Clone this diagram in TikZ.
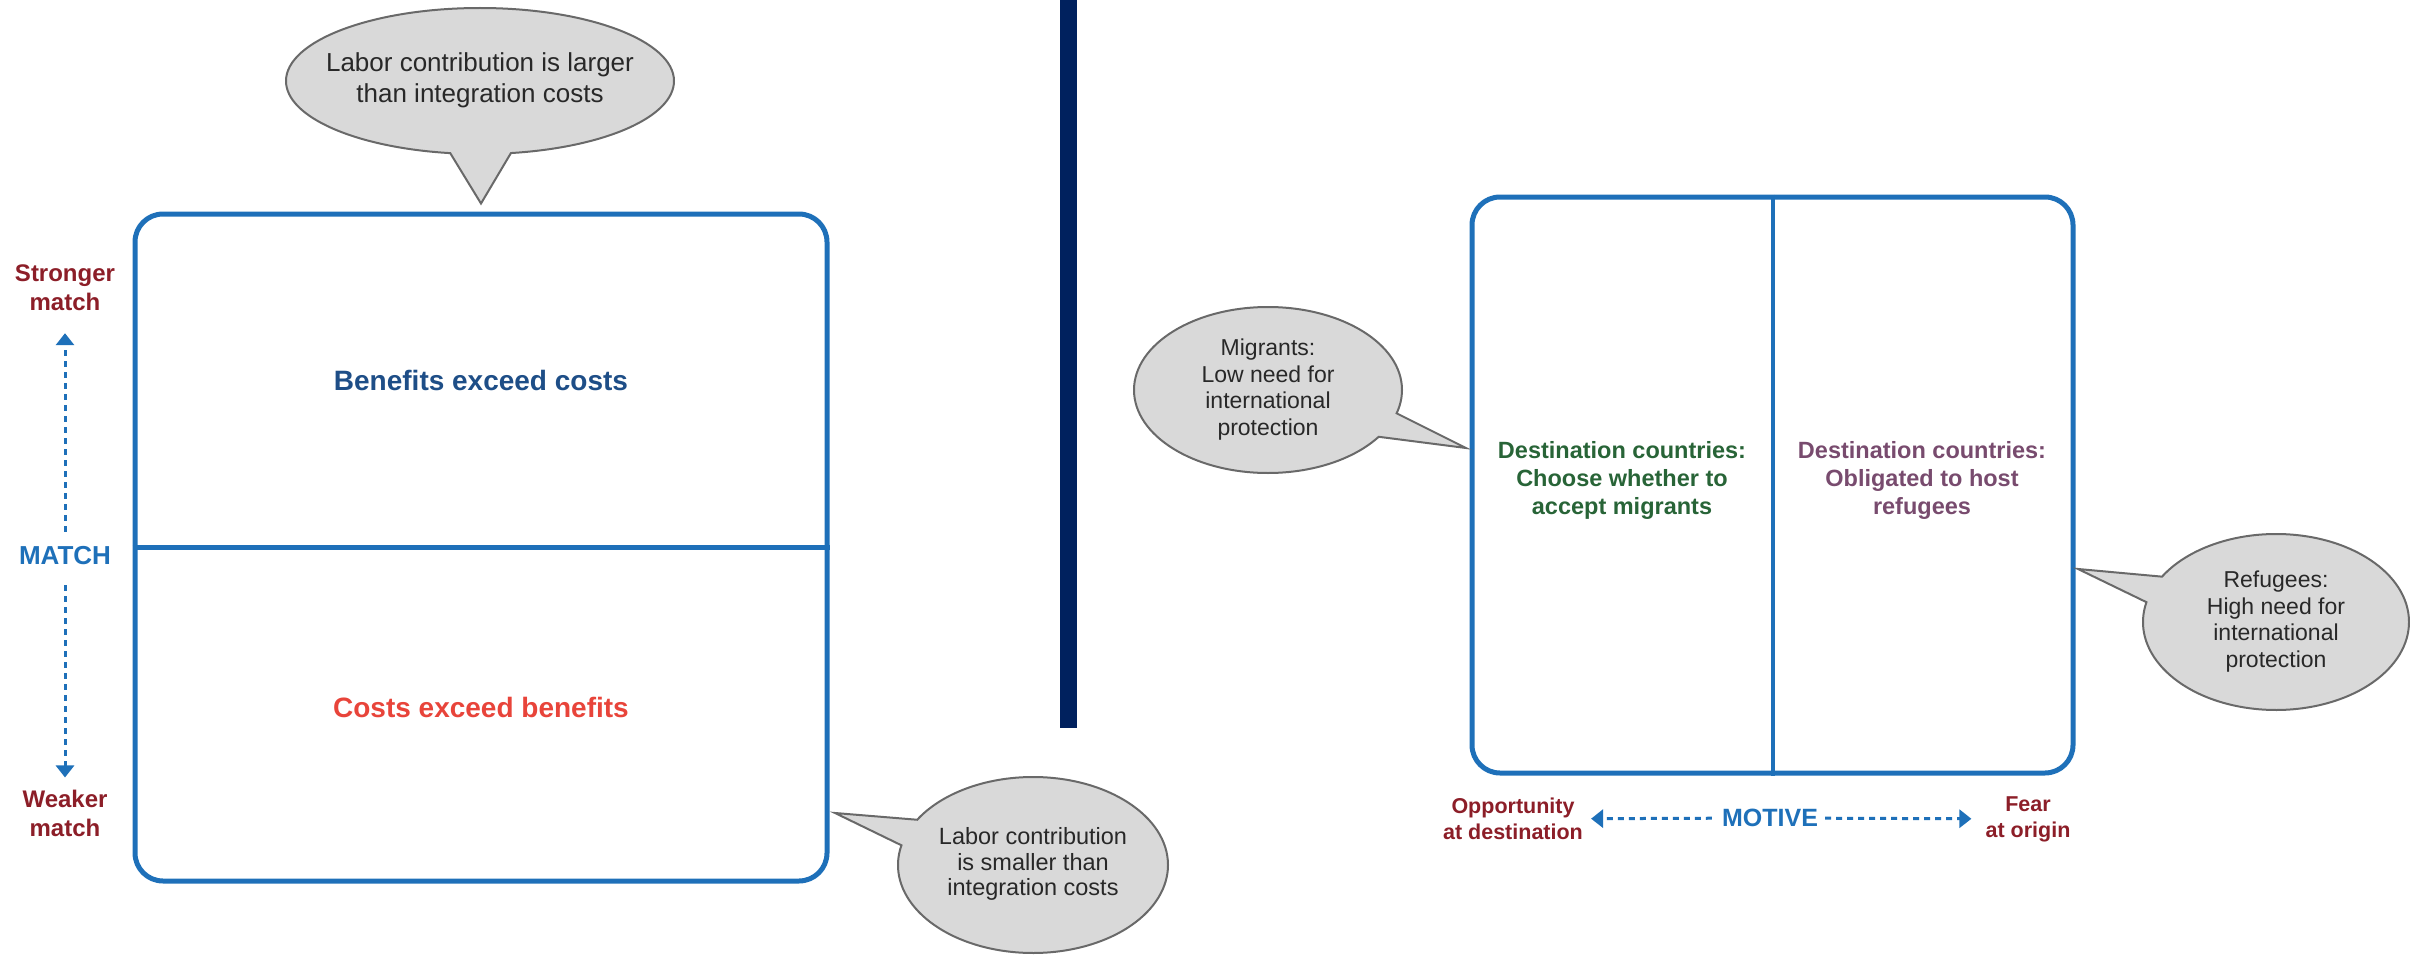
\documentclass[tikz,border=0pt]{standalone}
\usepackage{fontspec}
\setmainfont{Liberation Sans}
\usepackage{xcolor}
\usepackage{tikz}
\usetikzlibrary{shapes,arrows.meta}

\definecolor{boxblue}{RGB}{30,112,185}
\definecolor{benefitblue}{RGB}{30,78,135}
\definecolor{costred}{RGB}{232,68,58}
\definecolor{axisred}{RGB}{140,30,40}
\definecolor{bubblefill}{RGB}{217,217,217}
\definecolor{bubbleedge}{RGB}{105,105,105}
\definecolor{bubbleink}{RGB}{40,40,40}
\definecolor{navybar}{RGB}{0,33,94}
\definecolor{destgreen}{RGB}{40,100,55}
\definecolor{destpurple}{RGB}{120,75,110}

\newcommand{\bubbletext}[1]{\makebox[0pt]{\begin{tabular}{@{}c@{}}#1\end{tabular}}}

\begin{document}
\begin{tikzpicture}[x=1pt,y=-1pt]
        \tikzstyle{panel}=[draw=boxblue,line width=5pt,rounded corners=28pt,inner sep=0pt]
        \tikzstyle{bubble}=[ellipse callout,draw=bubbleedge,fill=bubblefill,line width=2pt,inner sep=0pt,callout pointer arc=18,text=bubbleink]
        \tikzstyle{endlbl}=[text=axisred,align=center,inner sep=0pt,font=\bfseries\fontsize{24}{29}\selectfont]
        \tikzstyle{axislbl}=[text=boxblue,inner sep=0pt,font=\bfseries\fontsize{26}{30}\selectfont]
        \tikzstyle{dasharrow}=[draw=boxblue,line width=3pt,dash pattern=on 6pt off 5pt,-{Triangle[length=12pt,width=18pt]}]

        \useasboundingbox (0,0) rectangle (2410,955);

        %% Left panel: match
        \node[panel,minimum width=692pt,minimum height=667pt] (lbox) at (481,547.5) {};
        \draw[draw=boxblue,line width=5pt] (lbox.west) -- (lbox.east);

        \node[text=benefitblue,font=\bfseries\fontsize{28}{32}\selectfont] (benefits) at (481,380) {Benefits exceed costs};
        \node[text=costred,font=\bfseries\fontsize{28}{32}\selectfont] (costs) at (481,707) {Costs exceed benefits};

        \node[endlbl] (stronger) at (65,288) {Stronger\\match};
        \node[axislbl] (match) at (65,556) {MATCH};
        \node[endlbl] (weaker) at (65,813) {Weaker\\match};
        \draw[dasharrow,shorten <=15pt,shorten >=22pt] (match) -- (stronger);
        \draw[dasharrow,shorten <=20pt,shorten >=12pt] (match) -- (weaker);

        \coordinate (smalltip) at (835,813);
        \node[bubble,minimum width=388pt,minimum height=146pt,callout absolute pointer={([yshift=8pt]lbox.north)},font=\fontsize{26}{31}\selectfont] (larger) at (480,81) {\bubbletext{Labor contribution is larger\\than integration costs}};
        \node[bubble,minimum width=270pt,minimum height=176pt,callout absolute pointer={(smalltip)},font=\fontsize{23.5}{25.5}\selectfont] (smaller) at (1033,865) {\bubbletext{Labor contribution\\is smaller than\\integration costs}};

        %% Divider
        \fill[navybar] (1060,0) rectangle (1077,728);

        %% Right panel: motive
        \node[panel,minimum width=601pt,minimum height=576pt] (rbox) at (1772.5,485) {};
        \draw[draw=boxblue,line width=4pt] (rbox.north) -- (rbox.south);

        \node[text=destgreen,align=center,font=\bfseries\fontsize{23.5}{28}\selectfont] (choose) at (1622,480) {Destination countries:\\Choose whether to\\accept migrants};
        \node[text=destpurple,align=center,font=\bfseries\fontsize{23.5}{28}\selectfont] (obliged) at (1922,480) {Destination countries:\\Obligated to host\\refugees};

        \coordinate (migtip) at (1466,448);
        \coordinate (reftip) at (2078,569);
        \node[bubble,minimum width=268pt,minimum height=166pt,callout absolute pointer={(migtip)},font=\fontsize{23}{26.5}\selectfont] (migrants) at (1268,390) {\bubbletext{Migrants:\\Low need for\\international\\protection}};
        \node[bubble,minimum width=266pt,minimum height=176pt,callout absolute pointer={(reftip)},font=\fontsize{23}{26.5}\selectfont] (refugees) at (2276,622) {\bubbletext{Refugees:\\High need for\\international\\protection}};

        \node[endlbl,font=\bfseries\fontsize{21.5}{26}\selectfont] (opportunity) at (1513,819) {Opportunity\\at destination};
        \node[axislbl,font=\bfseries\fontsize{25}{30}\selectfont] (motive) at (1770,818) {MOTIVE};
        \node[endlbl,font=\bfseries\fontsize{21.5}{26}\selectfont] (fear) at (2028,819) {Fear\\at origin};
        \draw[dasharrow,shorten <=10pt,shorten >=8pt] (motive) -- (opportunity);
        \draw[dasharrow,shorten <=7pt,shorten >=14pt] (motive) -- (fear);
\end{tikzpicture}
\end{document}
